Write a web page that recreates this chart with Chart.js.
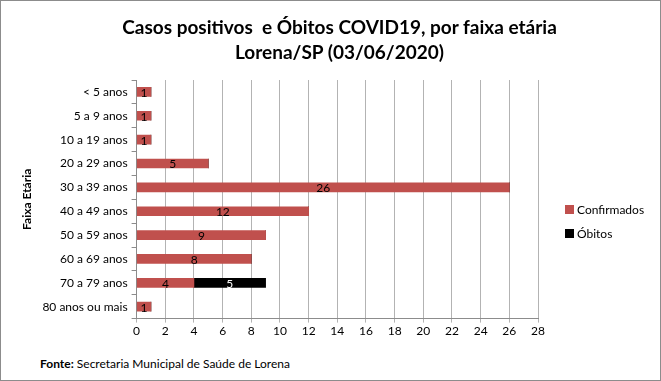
<!DOCTYPE html>
<html>
<head>
<meta charset="utf-8">
<script src="https://cdn.jsdelivr.net/npm/chart.js@4"></script>
<style>
  body { margin: 0; background: #fff; }
  #box { position: relative; width: 659px; height: 379px; border: 1px solid #8c8c8c; background: #fff; }
  #titulo { position: absolute; left: 0; top: 13px; width: 677px; text-align: center;
            font: bold 19px/25px Lato, sans-serif; color: #000; }
  #myChart { position: absolute; left: 0; top: 0; }
  #fonte { position: absolute; left: 39px; top: 355px; font: 12px Lato, sans-serif; color: #000; }
  #legenda { position: absolute; left: 564px; top: 201px; font: 12px Lato, sans-serif; color: #000; }
  #legenda div { height: 24px; line-height: 16px; }
  #legenda span { display: inline-block; width: 9px; height: 9px; margin-right: 3px; }
</style>
</head>
<body>
<div id="box">
  <canvas id="myChart" width="659" height="338"></canvas>
  <div id="titulo">Casos positivos&nbsp; e Óbitos COVID19, por faixa etária<br>Lorena/SP (03/06/2020)</div>
  <div id="legenda"></div>
  <div id="fonte"><b>Fonte:</b> Secretaria Municipal de Saúde de Lorena</div>
</div>
<script>
const faixas = ['< 5 anos', '5 a 9 anos', '10 a 19 anos', '20 a 29 anos', '30 a 39 anos',
    '40 a 49 anos', '50 a 59 anos', '60 a 69 anos', '70 a 79 anos', '80 anos ou mais'];
const confirmados = [1, 1, 1, 5, 26, 12, 9, 8, 4, 1];
const obitos = [0, 0, 0, 0, 0, 0, 0, 0, 5, 0];
const xMax = 28;

// numbers in the middle of each bar piece
const barLabels = {
    id: 'barLabels',
    afterDatasetsDraw(chart) {
        const ctx = chart.ctx;
        ctx.save();
        ctx.font = '12px Lato, sans-serif';
        ctx.textAlign = 'center';
        ctx.textBaseline = 'middle';
        chart.data.datasets.forEach((ds, i) => {
            chart.getDatasetMeta(i).data.forEach((bar, j) => {
                let v = ds.data[j];
                if (!v) return;
                ctx.fillStyle = i === 1 ? '#fff' : '#000';
                ctx.fillText(String(v), (bar.x + bar.base) / 2, bar.y + 1);
            });
        });
        ctx.restore();
    }
};

const chart = new Chart('myChart', {
    type: 'bar',
    data: {
        labels: faixas,
        datasets: [
            { label: 'Confirmados', data: confirmados, backgroundColor: '#C0504D' },
            { label: 'Óbitos', data: obitos, backgroundColor: '#000000' }
        ]
    },
    options: {
        indexAxis: 'y',
        responsive: false,
        animation: false,
        datasets: { bar: { barThickness: 9 } },
        layout: { padding: { left: 15, right: 122, top: 79, bottom: 0 } },
        plugins: {
            legend: { display: false },
            tooltip: { enabled: false }
        },
        scales: {
            x: {
                stacked: true, min: 0, max: xMax,
                ticks: { stepSize: 2, color: '#000', padding: 1, font: { family: 'Lato, sans-serif', size: 12 } },
                grid: { color: '#b3b3b3', tickLength: 4 },
                border: { color: '#8c8c8c' }
            },
            y: {
                stacked: true,
                ticks: { color: '#000', font: { family: 'Lato, sans-serif', size: 12 }, padding: 4 },
                grid: { offset: true, drawOnChartArea: false, color: '#8c8c8c', tickLength: 5 },
                border: { color: '#8c8c8c' },
                title: {
                    display: true, text: 'Faixa Etária', color: '#000',
                    font: { family: 'Lato, sans-serif', size: 12, weight: 'bold' }
                }
            }
        }
    },
    plugins: [barLabels]
});

// legend built from the datasets
document.getElementById('legenda').innerHTML = chart.data.datasets.map(ds =>
    '<div><span style="background:' + ds.backgroundColor + '"></span>' + ds.label + '</div>').join('');
</script>
</body>
</html>
